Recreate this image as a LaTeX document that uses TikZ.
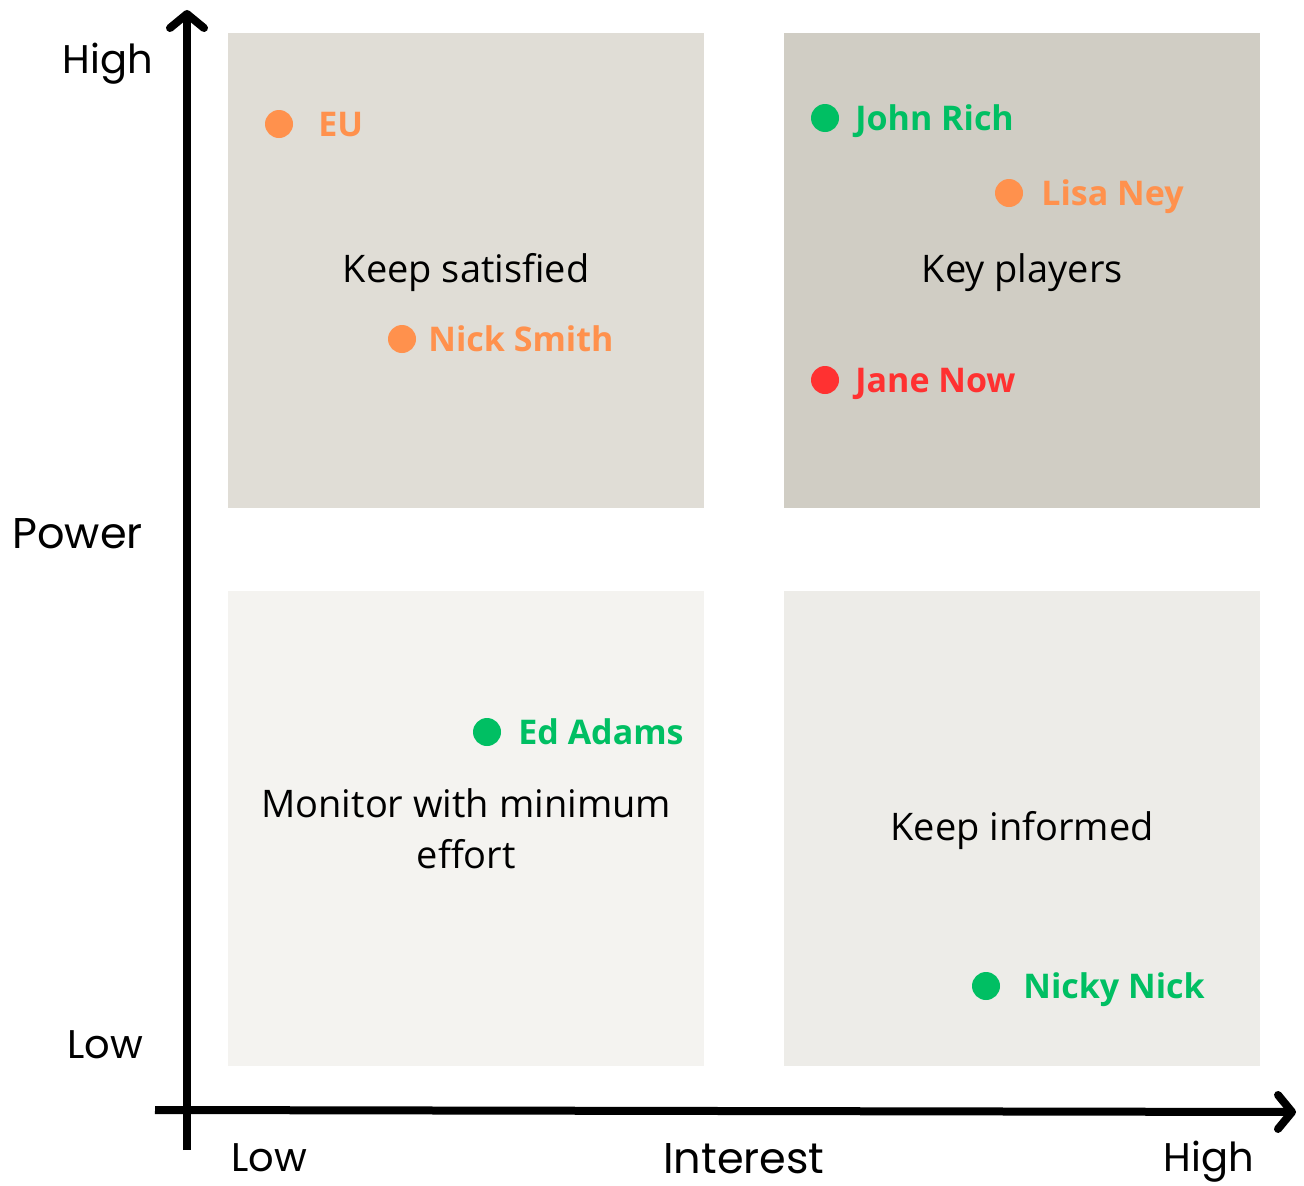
\documentclass[tikz,border=0pt]{standalone}
\usepackage{fontspec}
\setmainfont{Open Sans}
\newfontfamily\axisfont{Poppins}
\usetikzlibrary{positioning,arrows.meta}

\definecolor{satfill}{HTML}{E0DDD6}
\definecolor{keyfill}{HTML}{D0CDC4}
\definecolor{monfill}{HTML}{F4F3F0}
\definecolor{inffill}{HTML}{EDECE8}
\definecolor{stakeorange}{HTML}{FF914D}
\definecolor{stakegreen}{HTML}{00BF63}
\definecolor{stakered}{HTML}{FF3131}

\tikzset{
  quad/.style={minimum width=476pt, minimum height=475pt, inner sep=0pt, anchor=north west},
  quadlabel/.style={font=\fontsize{38}{51}\selectfont, align=center},
  stake/.style={circle, fill=#1, minimum size=28pt, inner sep=0pt},
  stakename/.style={text=#1, font=\bfseries\fontsize{34}{40}\selectfont,
    inner sep=0pt, text height=24pt, text depth=0pt},
  axislabel/.style={font=\axisfont\fontsize{40}{44}\selectfont, inner sep=0pt},
  axistitle/.style={font=\axisfont\fontsize{43}{48}\selectfont, inner sep=0pt},
  axisline/.style={line width=8pt, -{Straight Barb[length=14pt,width=34pt,line width=8pt,round]}},
}

\begin{document}
\begin{tikzpicture}[x=1pt,y=-1pt]
  \useasboundingbox (0,0) rectangle (1304,1186);

  % the four quadrants
  \node[quad, fill=satfill] (sat) at (228,33) {};
  \node[quad, fill=keyfill] (key) at (784,33) {};
  \node[quad, fill=monfill] (mon) at (228,591) {};
  \node[quad, fill=inffill] (inf) at (784,591) {};

  \node[quadlabel] (satlabel) at ([yshift=-2pt]sat.center) {Keep satisfied};
  \node[quadlabel] (keylabel) at ([yshift=-2pt]key.center) {Key players};
  \node[quadlabel] (monlabel) at (mon.center) {Monitor with minimum\\effort};
  \node[quadlabel] (inflabel) at ([yshift=-2pt]inf.center) {Keep informed};

  % stakeholders
  \node[stake=stakeorange] (eu) at (279,124) {};
  \node[stakename=stakeorange, right=25pt of eu] (eutext) {EU};
  \node[stake=stakeorange] (nick) at (402,339) {};
  \node[stakename=stakeorange, right=12pt of nick] (nicktext) {Nick Smith};
  \node[stake=stakegreen] (john) at (825,118) {};
  \node[stakename=stakegreen, right=16pt of john] (johntext) {John Rich};
  \node[stake=stakeorange] (lisa) at (1009,193) {};
  \node[stakename=stakeorange, right=18pt of lisa] (lisatext) {Lisa Ney};
  \node[stake=stakered] (jane) at (825,380) {};
  \node[stakename=stakered, right=16pt of jane] (janetext) {Jane Now};
  \node[stake=stakegreen] (ed) at (487,732) {};
  \node[stakename=stakegreen, right=17pt of ed] (edtext) {Ed Adams};
  \node[stake=stakegreen] (nicky) at (986,986) {};
  \node[stakename=stakegreen, right=23pt of nicky] (nickytext) {Nicky Nick};

  % axes
  \coordinate (ybot) at (187,1150);
  \coordinate (ytop) at (187,10);
  \coordinate (xleft) at (155,1110);
  \coordinate (xright) at (1296,1112);
  \draw[axisline] (ybot) -- (ytop);
  \draw[axisline] (xleft) -- (xright);

  \node[axislabel, anchor=base east] (powhigh) at (153,73) {High};
  \node[axistitle, anchor=base east] (power) at (143,548) {Power};
  \node[axislabel, anchor=base east] (powlow) at (143,1058) {Low};
  \node[axislabel, anchor=base west] (intlow) at (231,1171) {Low};
  \node[axistitle, anchor=base] (interest) at (744,1173) {Interest};
  \node[axislabel, anchor=base east] (inthigh) at (1254,1171) {High};
\end{tikzpicture}
\end{document}
